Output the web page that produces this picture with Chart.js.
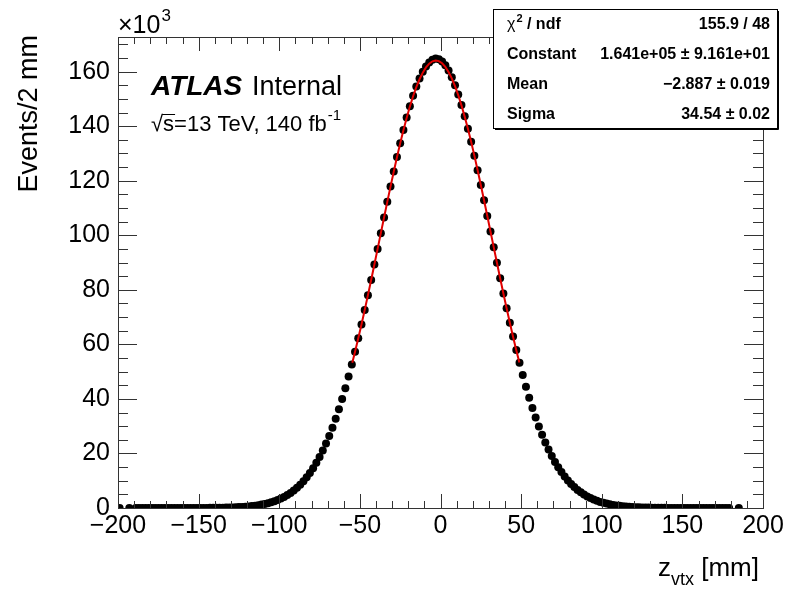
<!DOCTYPE html>
<html>
<head>
<meta charset="utf-8">
<script src="https://cdn.jsdelivr.net/npm/chart.js@4"></script>
<style>
  html, body { margin: 0; padding: 0; background: #fff; }
  #wrap { width: 787px; height: 590px; }
</style>
</head>
<body>
<div id="wrap"><canvas id="zvtxChart" width="787" height="590"></canvas></div>
<script>
// bin centres [mm] and contents [x10^3 events / 2 mm]
const binCentres = [
  -199, -193,
  -189, -187, -185, -183, -181, -179, -177, -175, -173, -171,
  -169, -167, -165, -163, -161, -159, -157, -155, -153, -151,
  -149, -147, -145, -143, -141, -139, -137, -135, -133, -131,
  -129, -127, -125, -123, -121, -119, -117, -115, -113, -111,
  -109, -107, -105, -103, -101, -99, -97, -95, -93, -91,
  -89, -87, -85, -83, -81, -79, -77, -75, -73, -71,
  -69, -67, -65, -63, -61, -59, -57, -55, -53, -51,
  -49, -47, -45, -43, -41, -39, -37, -35, -33, -31,
  -29, -27, -25, -23, -21, -19, -17, -15, -13, -11,
  -9, -7, -5, -3, -1, 1, 3, 5, 7, 9,
  11, 13, 15, 17, 19, 21, 23, 25, 27, 29,
  31, 33, 35, 37, 39, 41, 43, 45, 47, 49,
  51, 53, 55, 57, 59, 61, 63, 65, 67, 69,
  71, 73, 75, 77, 79, 81, 83, 85, 87, 89,
  91, 93, 95, 97, 99, 101, 103, 105, 107, 109,
  111, 113, 115, 117, 119, 121, 123, 125, 127, 129,
  131, 133, 135, 137, 139, 141, 143, 145, 147, 149,
  151, 153, 155, 157, 159, 161, 163, 165, 167, 169,
  171, 173, 175, 177, 179,
  185
];
const eventsK = [
  0.005, 0.005,
  0.006, 0.007, 0.007, 0.008, 0.009, 0.009, 0.010, 0.011, 0.012, 0.013,
  0.014, 0.015, 0.016, 0.017, 0.018, 0.019, 0.020, 0.021, 0.022, 0.023,
  0.025, 0.031, 0.038, 0.048, 0.060, 0.075, 0.095, 0.118, 0.146, 0.180,
  0.222, 0.272, 0.332, 0.404, 0.490, 0.592, 0.713, 0.858, 1.03, 1.24,
  1.48, 1.77, 2.10, 2.49, 2.94, 3.46, 4.06, 4.75, 5.53, 6.42,
  7.43, 8.56, 9.84, 11.27, 12.86, 14.62, 16.56, 18.71, 21.07, 23.63,
  26.42, 29.45, 32.71, 36.20, 39.96, 43.93, 48.18, 52.62, 57.27, 62.21,
  67.30, 72.58, 78.02, 83.58, 89.24, 94.98, 100.76, 106.53, 112.25, 117.87,
  123.36, 128.68, 133.78, 138.63, 143.15, 147.33, 151.14, 154.53, 157.44, 159.92,
  161.90, 163.35, 164.32, 164.80, 164.55, 163.75, 162.35, 160.40, 157.95, 155.00,
  151.60, 147.80, 143.62, 139.10, 134.27, 129.18, 123.88, 118.40, 112.80, 107.10,
  101.36, 95.60, 89.88, 84.22, 78.68, 73.25, 67.96, 62.85, 57.93, 53.22,
  48.73, 44.48, 40.47, 36.70, 33.18, 29.88, 26.84, 24.02, 21.43, 19.06,
  16.90, 14.94, 13.16, 11.55, 10.10, 8.81, 7.66, 6.64, 5.73, 4.94,
  4.24, 3.63, 3.10, 2.64, 2.24, 1.90, 1.61, 1.36, 1.14, 0.96,
  0.80, 0.67, 0.56, 0.46, 0.38, 0.32, 0.26, 0.21, 0.175, 0.143,
  0.117, 0.095, 0.078, 0.064, 0.052, 0.043, 0.035, 0.029, 0.024, 0.020,
  0.017, 0.015, 0.013, 0.012, 0.011, 0.010, 0.009, 0.008, 0.008, 0.007,
  0.007, 0.006, 0.006, 0.006, 0.005,
  0.004
];

// gaussian fit curve, sampled over the fit range
const fitX = [
  -54.7, -53, -51, -49, -47, -45, -43, -41, -39, -37, -35, -33, -31,
  -29, -27, -25, -23, -21, -19, -17, -15, -13, -11, -9, -7, -5, -3, -1,
  1, 3, 5, 7, 9, 11, 13, 15, 17, 19, 21, 23, 25, 27, 29,
  31, 33, 35, 37, 39, 41, 43, 45, 47, 48.9
];
const fitY = [
  53.28, 57.25, 62.21, 67.31, 72.60, 78.05, 83.61, 89.27, 95.00, 100.77, 106.52, 112.23, 117.84,
  123.31, 128.61, 133.69, 138.52, 143.02, 147.18, 150.96, 154.32, 157.20, 159.64, 161.56, 162.94, 163.79, 164.10, 163.86,
  163.06, 161.73, 159.88, 157.52, 154.66, 151.37, 147.62, 143.50, 139.03, 134.25, 129.20, 123.91, 118.45, 112.85, 107.16,
  101.41, 95.65, 89.91, 84.23, 78.67, 73.21, 67.90, 62.77, 57.83, 53.33
];

const xRange = [-200, 200];
const yRange = [0, 172.7];
const xMajor = 50, xMinor = 10;
const yMajor = 20, yMinor = 5;

const statsRows = [
  ["Constant", "1.641e+05 \u00b1 9.161e+01"],
  ["Mean", "\u22122.887 \u00b1 0.019"],
  ["Sigma", "34.54 \u00b1 0.02"]
];
const chiText = "155.9 / 48";

const FONT = "'Liberation Sans', Arial, Helvetica, sans-serif";

const points = binCentres.map((x, i) => ({ x: x, y: eventsK[i] }));
const fitPoints = fitX.map((x, i) => ({ x: x, y: fitY[i] }));

// frame, inward ticks on all four sides, and the ROOT-style text
const rootDecor = {
  id: "rootDecor",
  afterDatasetsDraw(chart) {
    const ctx = chart.ctx;
    const a = chart.chartArea;
    const xs = chart.scales.x, ys = chart.scales.y;
    ctx.save();
    ctx.strokeStyle = "#333";
    ctx.lineWidth = 1;

    // ticks
    ctx.beginPath();
    for (let v = xRange[0]; v <= xRange[1] + 0.001; v += xMinor) {
      const px = Math.round(xs.getPixelForValue(v)) + 0.5;
      const len = (Math.abs(v % xMajor) < 0.001) ? 14 : 7;
      ctx.moveTo(px, a.bottom); ctx.lineTo(px, a.bottom - len);
      ctx.moveTo(px, a.top); ctx.lineTo(px, a.top + len);
    }
    for (let v = yRange[0]; v <= yRange[1] + 0.001; v += yMinor) {
      const py = Math.round(ys.getPixelForValue(v)) + 0.5;
      const len = (Math.abs(v % yMajor) < 0.001) ? 19 : 10;
      ctx.moveTo(a.left, py); ctx.lineTo(a.left + len, py);
      ctx.moveTo(a.right, py); ctx.lineTo(a.right - len, py);
    }
    ctx.stroke();

    // frame
    ctx.strokeRect(Math.round(a.left) + 0.5, Math.round(a.top) + 0.5,
      Math.round(a.right - a.left), Math.round(a.bottom - a.top));

    ctx.fillStyle = "#000";
    ctx.textBaseline = "alphabetic";

    // x10^3
    ctx.textAlign = "left";
    ctx.font = "25px " + FONT;
    ctx.fillText("\u00d710", a.left, a.top - 4);
    const w10 = ctx.measureText("\u00d710").width;
    ctx.font = "17px " + FONT;
    ctx.fillText("3", a.left + w10 + 1, a.top - 16);

    // ATLAS Internal
    ctx.font = "italic bold 28px " + FONT;
    ctx.fillText("ATLAS", 151, 95);
    ctx.font = "27px " + FONT;
    ctx.fillText("Internal", 252, 95);

    // sqrt(s) line
    ctx.font = "22px " + FONT;
    let x0 = 151;
    ctx.fillText("\u221a", x0, 131);
    x0 += ctx.measureText("\u221a").width;
    const sW = ctx.measureText("s").width;
    ctx.fillText("s", x0, 131);
    ctx.beginPath();
    ctx.lineWidth = 1;
    ctx.moveTo(x0 - 1, 114.5); ctx.lineTo(x0 + sW + 1, 114.5);
    ctx.strokeStyle = "#000";
    ctx.stroke();
    x0 += sW;
    const rest = "=13 TeV, 140 fb";
    ctx.fillText(rest, x0, 131);
    x0 += ctx.measureText(rest).width;
    ctx.font = "15px " + FONT;
    ctx.fillText("-1", x0 + 1, 120);

    // axis titles
    ctx.font = "27px " + FONT;
    ctx.save();
    ctx.translate(37, a.top - 2);
    ctx.rotate(-Math.PI / 2);
    ctx.textAlign = "right";
    ctx.fillText("Events/2 mm", 0, 0);
    ctx.restore();

    ctx.textAlign = "left";
    let tx = 658;
    ctx.font = "26px " + FONT;
    ctx.fillText("z", tx, 576);
    tx += ctx.measureText("z").width;
    ctx.font = "18px " + FONT;
    ctx.fillText("vtx", tx, 585);
    tx += ctx.measureText("vtx").width;
    ctx.font = "26px " + FONT;
    ctx.fillText(" [mm]", tx, 576);

    // stats box
    const bx = 493, by = 9, bw = 284, bh = 119;
    ctx.fillStyle = "#fff";
    ctx.fillRect(bx, by, bw, bh);
    ctx.strokeStyle = "#000";
    ctx.lineWidth = 1;
    ctx.strokeRect(bx + 0.5, by + 0.5, bw, bh);
    ctx.beginPath();
    ctx.moveTo(bx + 2, by + bh + 1.5); ctx.lineTo(bx + bw + 1.5, by + bh + 1.5);
    ctx.lineTo(bx + bw + 1.5, by + 2);
    ctx.stroke();

    ctx.fillStyle = "#000";
    const left = 507, right = 770;
    let rowY = 29;
    ctx.font = "16px " + FONT;
    ctx.textAlign = "left";
    ctx.fillText("\u03c7", left, rowY);
    let cx = left + ctx.measureText("\u03c7").width + 1;
    ctx.font = "bold 11px " + FONT;
    ctx.fillText("2", cx, rowY - 7);
    cx += ctx.measureText("2").width;
    ctx.font = "bold 16px " + FONT;
    ctx.fillText(" / ndf", cx, rowY);
    ctx.textAlign = "right";
    ctx.fillText(chiText, right, rowY);
    statsRows.forEach(r => {
      rowY += 30;
      ctx.textAlign = "left";
      ctx.fillText(r[0], left, rowY);
      ctx.textAlign = "right";
      ctx.fillText(r[1], right, rowY);
    });

    ctx.restore();
  }
};

const whiteBg = {
  id: "whiteBg",
  beforeDraw(chart) {
    const ctx = chart.ctx;
    ctx.save();
    ctx.fillStyle = "#fff";
    ctx.fillRect(0, 0, chart.width, chart.height);
    ctx.restore();
  }
};

new Chart(document.getElementById("zvtxChart").getContext("2d"), {
  type: "scatter",
  data: {
    datasets: [
      {
        label: "Gaussian fit",
        data: fitPoints,
        showLine: true,
        borderColor: "#e00000",
        borderWidth: 2,
        pointRadius: 0,
        fill: false,
        order: 0
      },
      {
        label: "Data",
        data: points,
        showLine: false,
        pointRadius: 4,
        pointBackgroundColor: "#000",
        pointBorderWidth: 0,
        order: 1
      }
    ]
  },
  options: {
    responsive: false,
    animation: false,
    events: [],
    layout: { padding: { left: 0, top: 37, right: 24, bottom: 52 } },
    plugins: {
      legend: { display: false },
      title: { display: false },
      tooltip: { enabled: false }
    },
    scales: {
      x: {
        type: "linear",
        min: xRange[0],
        max: xRange[1],
        grid: { display: false, drawTicks: false },
        border: { display: false },
        ticks: {
          stepSize: xMajor,
          includeBounds: false,
          maxRotation: 0,
          autoSkip: false,
          padding: 3,
          color: "#000",
          font: { family: FONT, size: 25 },
          callback: v => String(v).replace("-", "\u2212")
        },
        afterFit: s => { s.height = 30; }
      },
      y: {
        type: "linear",
        min: yRange[0],
        max: yRange[1],
        grid: { display: false, drawTicks: false },
        border: { display: false },
        ticks: {
          stepSize: yMajor,
          includeBounds: false,
          autoSkip: false,
          padding: 8,
          color: "#000",
          font: { family: FONT, size: 25 }
        },
        afterFit: s => { s.width = 118; }
      }
    }
  },
  plugins: [whiteBg, rootDecor]
});
</script>
</body>
</html>
